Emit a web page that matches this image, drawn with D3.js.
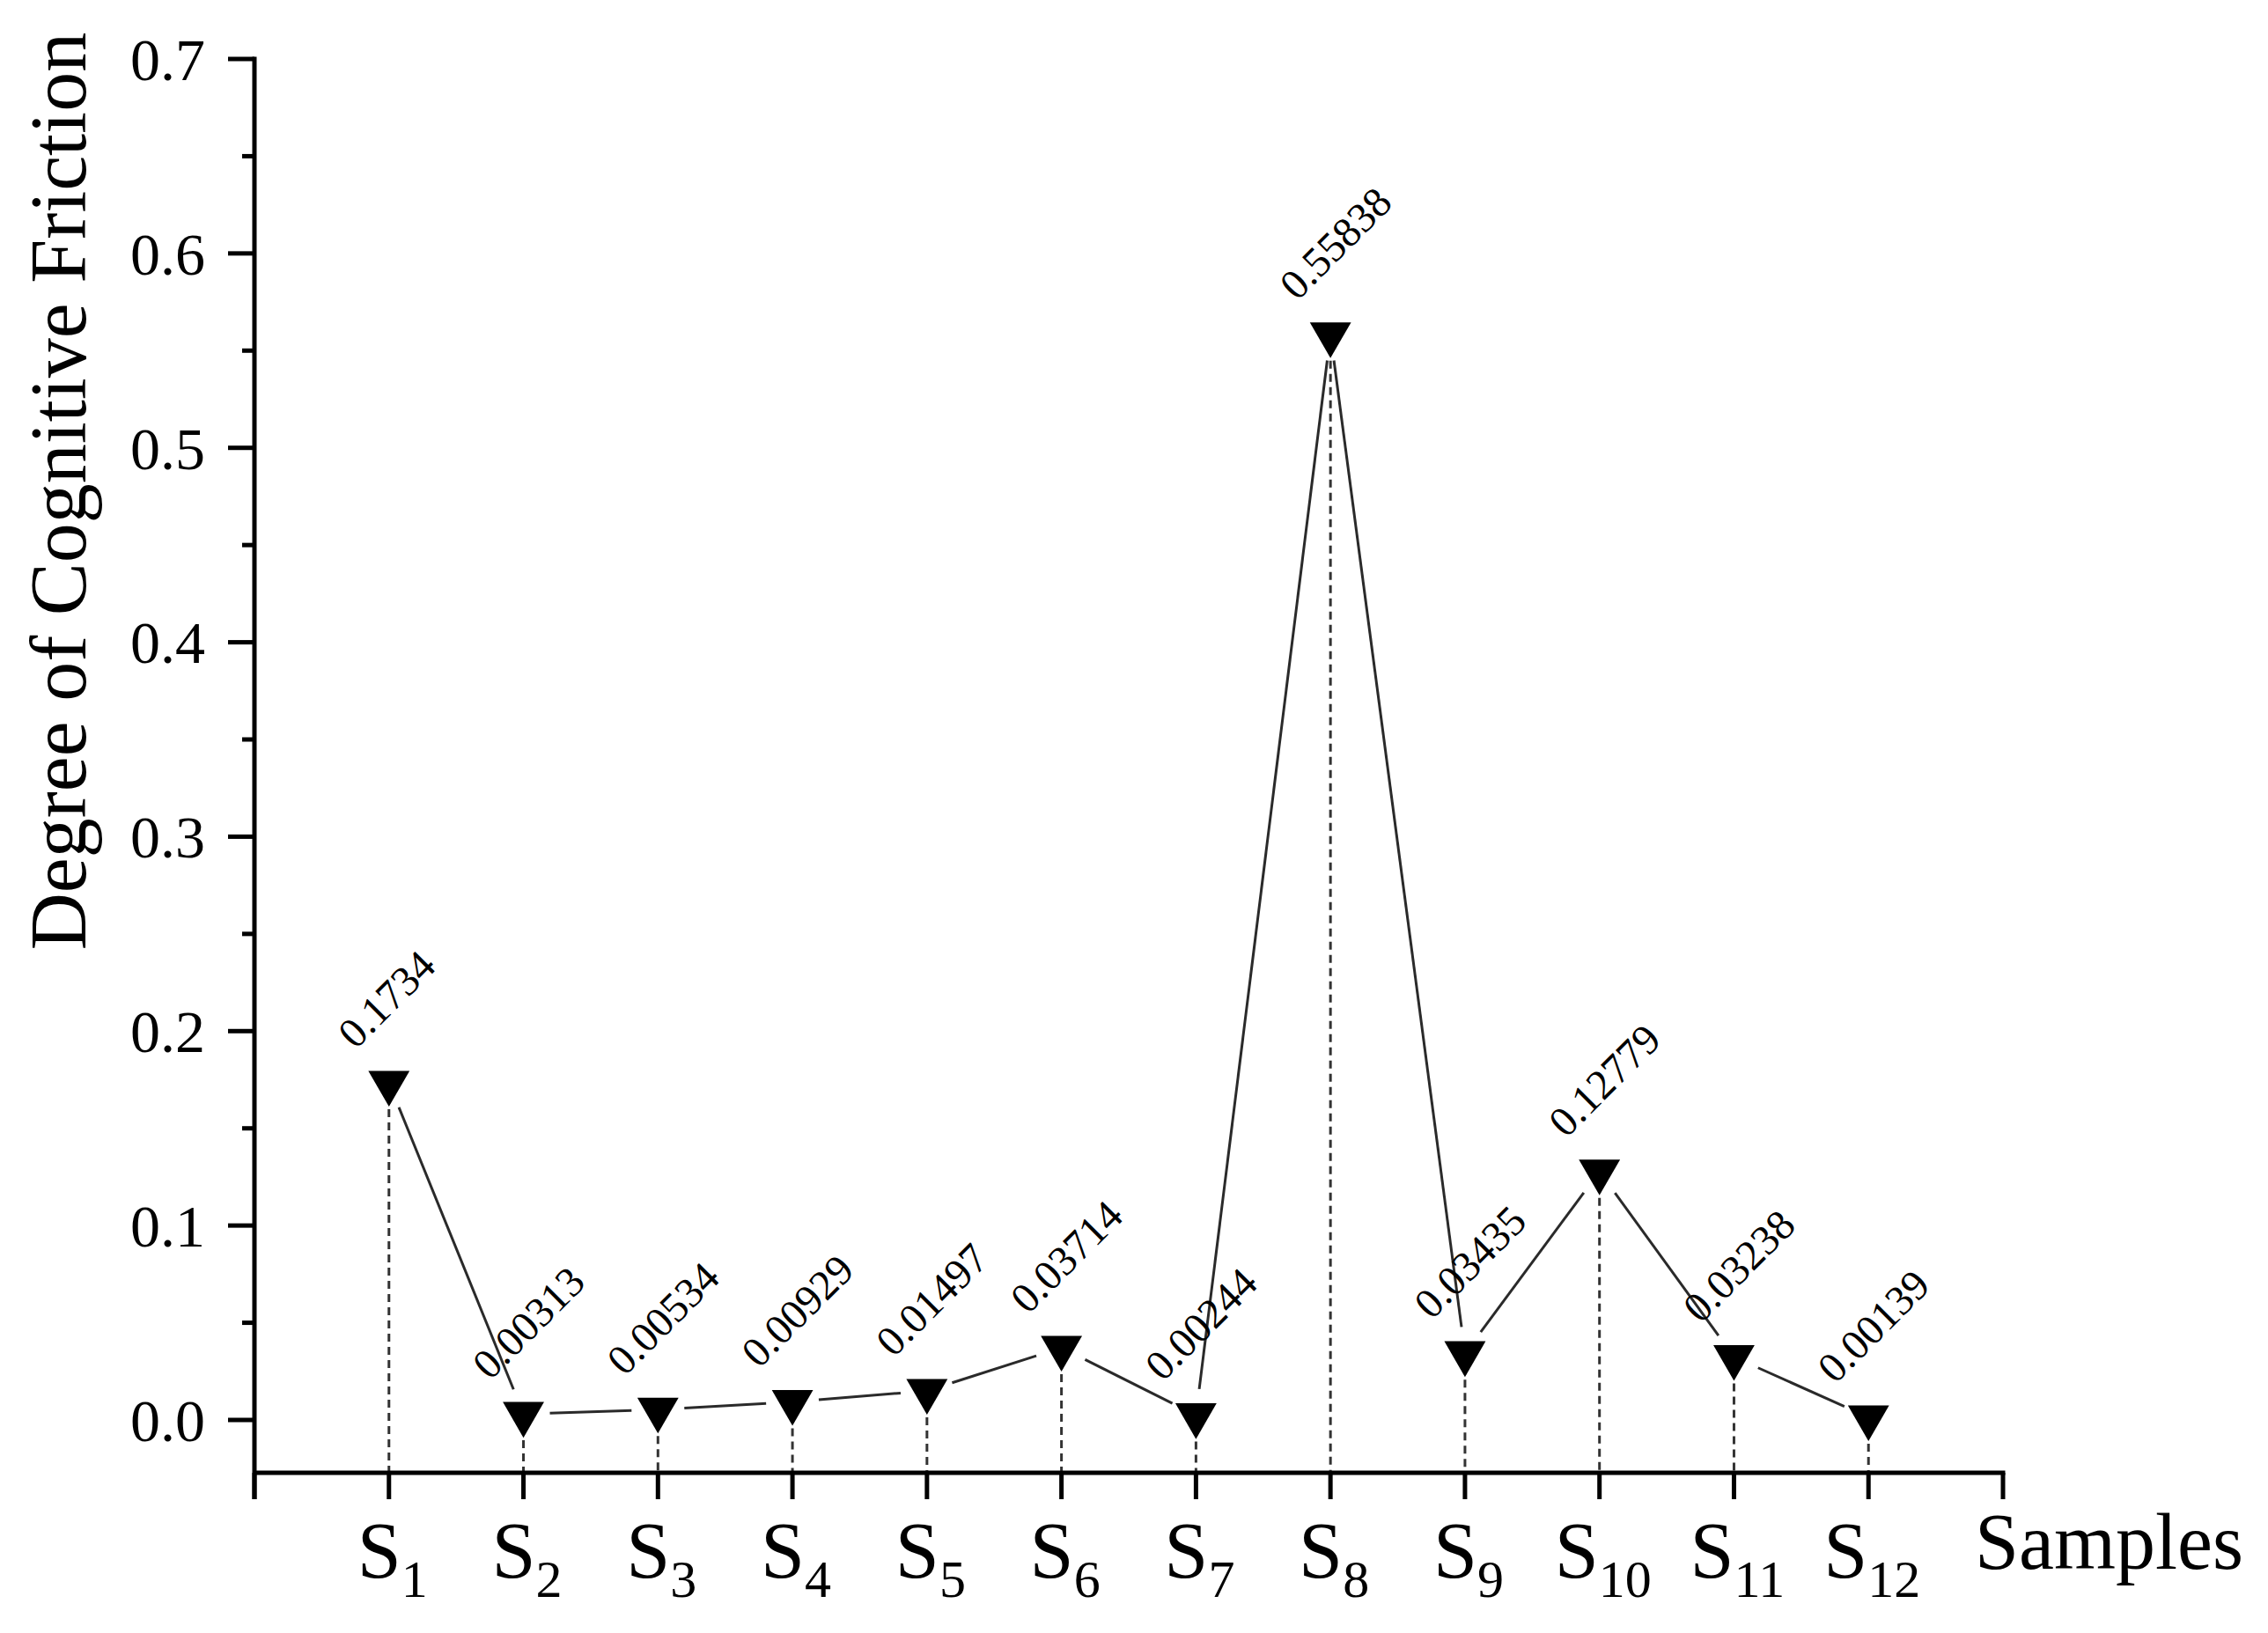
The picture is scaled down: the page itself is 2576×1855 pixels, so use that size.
<!DOCTYPE html>
<html>
<head>
<meta charset="utf-8">
<script src="https://d3js.org/d3.v7.min.js"></script>
<style>
  body { margin: 0; background: #fff; }
  text { font-family: "Liberation Serif", "Times New Roman", serif; fill: #000; }
</style>
</head>
<body>
<div id="chart"></div>
<script>
var samples = ["1", "2", "3", "4", "5", "6", "7", "8", "9", "10", "11", "12"];
var friction = [0.1734, 0.00313, 0.00534, 0.00929, 0.01497, 0.03714, 0.00244, 0.55838, 0.03435, 0.12779, 0.03238, 0.00139];
var yTicks = [0, 0.1, 0.2, 0.3, 0.4, 0.5, 0.6, 0.7];
var yMinor = [0.05, 0.15, 0.25, 0.35, 0.45, 0.55, 0.65];

var width = 2576, height = 1855;

var svg = d3.select("#chart").append("svg")
	.attr("width", width)
	.attr("height", height);

// x positions: 0 and 13 are the axis ends, samples sit at 1..12
var x = d3.scaleLinear().domain([0, 13]).range([289, 2275]);
var y = d3.scaleLinear().domain([0, 0.7]).range([1613, 67]);
var axisY = 1673;

var pts = friction.map(function (v, i) { return { i: i + 1, v: v, label: samples[i] }; });

// dashed drop lines
svg.selectAll(".drop").data(pts).enter().append("line")
	.attr("class", "drop")
	.attr("x1", function (d) { return x(d.i); }).attr("x2", function (d) { return x(d.i); })
	.attr("y1", function (d) { return y(d.v); }).attr("y2", axisY)
	.attr("stroke", "#333").attr("stroke-width", 3).attr("stroke-dasharray", "9,6");

// connecting segments, with a gap around each marker
var gap = 30;
var segs = d3.pairs(pts);
svg.selectAll(".seg").data(segs).enter().append("line")
	.attr("class", "seg")
	.each(function (d) {
		var x1 = x(d[0].i), y1 = y(d[0].v), x2 = x(d[1].i), y2 = y(d[1].v);
		var len = Math.hypot(x2 - x1, y2 - y1);
		var ux = (x2 - x1) / len, uy = (y2 - y1) / len;
		d3.select(this)
			.attr("x1", x1 + ux * gap).attr("y1", y1 + uy * gap)
			.attr("x2", x2 - ux * gap).attr("y2", y2 - uy * gap);
	})
	.attr("stroke", "#2a2a2a").attr("stroke-width", 3);

// markers
var tri = d3.symbol().type(d3.symbolTriangle).size(950);
svg.selectAll(".mark").data(pts).enter().append("path")
	.attr("class", "mark")
	.attr("d", tri)
	.attr("transform", function (d) { return "translate(" + x(d.i) + "," + y(d.v) + ") rotate(180)"; })
	.attr("fill", "#000");

// value labels
svg.selectAll(".val").data(pts).enter().append("text")
	.attr("class", "val")
	.attr("transform", function (d) { return "translate(" + (x(d.i) - 38) + "," + (y(d.v) - 37) + ") rotate(-45)"; })
	.attr("font-size", 48)
	.attr("fill", "#222")
	.text(function (d) { return d.v; });

// y axis
var yAxis = svg.append("g");
yAxis.append("line").attr("x1", x(0)).attr("x2", x(0)).attr("y1", y(0.7) - 2.5).attr("y2", axisY + 30)
	.attr("stroke", "#000").attr("stroke-width", 5);
yAxis.selectAll(".ytick").data(yTicks).enter().append("line")
	.attr("x1", x(0) - 30).attr("x2", x(0))
	.attr("y1", function (d) { return y(d); }).attr("y2", function (d) { return y(d); })
	.attr("stroke", "#000").attr("stroke-width", 5);
yAxis.selectAll(".yminor").data(yMinor).enter().append("line")
	.attr("x1", x(0) - 14).attr("x2", x(0))
	.attr("y1", function (d) { return y(d); }).attr("y2", function (d) { return y(d); })
	.attr("stroke", "#000").attr("stroke-width", 5);
yAxis.selectAll(".ylab").data(yTicks).enter().append("text")
	.attr("x", x(0) - 56).attr("y", function (d) { return y(d); })
	.attr("dy", "0.35em")
	.attr("text-anchor", "end")
	.attr("font-size", 68)
	.text(d3.format(".1f"));

svg.append("text")
	.attr("transform", "translate(97,558) rotate(-90)")
	.attr("text-anchor", "middle")
	.attr("font-size", 90)
	.text("Degree of Cognitive Friction");

// x axis
var xAxis = svg.append("g");
xAxis.append("line").attr("x1", x(0)).attr("x2", x(13) + 2.5).attr("y1", axisY).attr("y2", axisY)
	.attr("stroke", "#000").attr("stroke-width", 5);
xAxis.selectAll(".xtick").data(d3.range(0, 14)).enter().append("line")
	.attr("x1", function (d) { return x(d); }).attr("x2", function (d) { return x(d); })
	.attr("y1", axisY).attr("y2", axisY + 30)
	.attr("stroke", "#000").attr("stroke-width", 5);

var xl = xAxis.selectAll(".xlab").data(pts).enter().append("text")
	.attr("x", function (d) { return x(d.i) + 4; })
	.attr("y", 1792)
	.attr("text-anchor", "middle")
	.attr("font-size", 90);
xl.append("tspan").text("S");
xl.append("tspan").attr("font-size", 60).attr("dy", 22).text(function (d) { return d.label; });

svg.append("text")
	.attr("x", 2243).attr("y", 1782)
	.attr("font-size", 90)
	.text("Samples");
</script>
</body>
</html>
